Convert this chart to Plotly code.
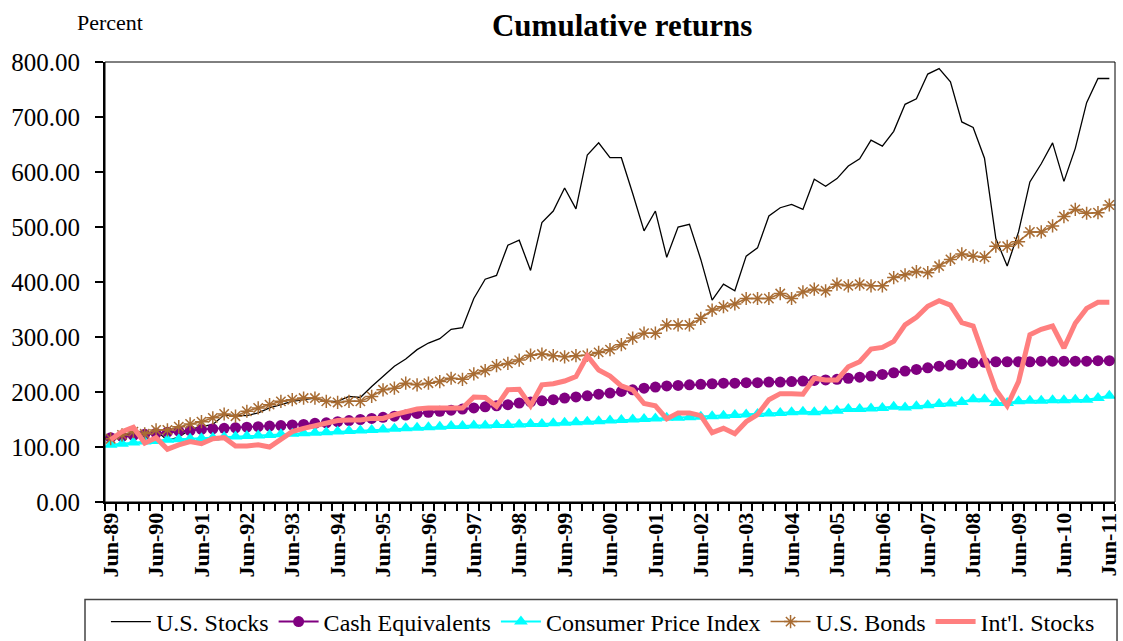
import plotly.graph_objects as go

years = list(range(89, 100)) + list(range(0, 12))
tick_labels = ["Jun-%02d" % y for y in years]
n_points = 89

us_stocks = [110, 122, 124, 120, 130, 112, 118, 132, 137, 141, 158, 157, 157, 162, 171, 177, 183, 186, 189, 183,
             183, 192, 190, 210, 228, 247, 260, 277, 289, 297, 314, 317, 370, 405, 412, 467, 476, 421, 508, 529,
             571, 533, 631, 653, 626, 626, 561, 493, 529, 445, 500, 505, 441, 367, 396, 384, 447, 462, 520, 535,
             541, 532, 587, 574, 588, 611, 624, 658, 647, 674, 723, 733, 778, 788, 764, 691, 681, 625, 479, 429,
             491, 582, 615, 653, 583, 643, 726, 770, 770]
cash = [117, 119, 121, 123, 125, 127, 129, 130, 132, 133, 134, 135, 136, 137, 138, 139, 140, 141, 143, 144,
        146, 148, 150, 152, 154, 156, 158, 161, 163, 165, 167, 169, 171, 173, 175, 177, 180, 182, 184, 186,
        189, 191, 193, 196, 198, 201, 204, 207, 209, 211, 212, 213, 214, 215, 216, 216, 217, 217, 218, 218,
        219, 220, 221, 222, 223, 225, 227, 229, 232, 235, 238, 241, 244, 247, 249, 251, 253, 254, 255, 255,
        255, 255, 256, 256, 256, 256, 256, 257, 257]
cpi = [104, 106, 108, 110, 111, 113, 114, 115, 116, 117, 118, 119, 120, 121, 122, 123, 124, 125, 126, 127,
       128, 129, 130, 131, 132, 133, 134, 135, 136, 137, 138, 138, 139, 139, 140, 140, 141, 142, 142, 143,
       144, 145, 146, 147, 148, 149, 150, 151, 152, 153, 153, 154, 155, 156, 157, 158, 159, 160, 161, 162,
       163, 164, 163, 165, 166, 169, 169, 170, 171, 173, 172, 174, 176, 178, 179, 182, 187, 187, 180, 180,
       183, 184, 184, 185, 185, 186, 186, 189, 193]
bonds = [115, 122, 128, 124, 131, 131, 137, 142, 146, 153, 160, 156, 165, 171, 177, 183, 186, 189, 189, 183,
         181, 183, 183, 192, 204, 207, 216, 213, 216, 219, 225, 223, 233, 239, 248, 252, 258, 267, 269, 266,
         264, 266, 267, 272, 277, 286, 298, 307, 307, 322, 322, 322, 334, 349, 355, 360, 370, 370, 370, 379,
         370, 382, 387, 384, 396, 393, 396, 393, 393, 408, 413, 419, 417, 429, 441, 451, 447, 445, 465, 465,
         473, 491, 491, 502, 519, 532, 525, 526, 540]
intl = [113, 128, 136, 107, 117, 96, 104, 110, 106, 115, 117, 102, 102, 104, 100, 114, 128, 134, 139, 143,
        148, 149, 149, 152, 152, 159, 165, 169, 171, 171, 172, 171, 191, 190, 174, 204, 205, 175, 213, 215,
        220, 228, 266, 240, 229, 211, 204, 179, 175, 151, 162, 162, 157, 126, 134, 124, 146, 159, 186, 197,
        197, 196, 225, 222, 222, 246, 255, 278, 281, 292, 322, 336, 356, 366, 358, 326, 320, 260, 204, 175,
        219, 304, 314, 320, 280, 325, 352, 363, 363]

x = list(range(n_points))
FONT = "Liberation Serif"
BROWN = "#A86C33"

fig = go.Figure()
fig.add_trace(go.Scatter(x=x, y=us_stocks, name="U.S. Stocks", mode="lines",
                         line=dict(color="black", width=1.3)))
fig.add_trace(go.Scatter(x=x, y=cash, name="Cash Equivalents", mode="lines+markers",
                         line=dict(color="#800080", width=2),
                         marker=dict(symbol="circle", size=11, color="#800080")))
fig.add_trace(go.Scatter(x=x, y=cpi, name="Consumer Price Index", mode="lines+markers",
                         line=dict(color="#00FFFF", width=2),
                         marker=dict(symbol="triangle-up", size=12, color="#00FFFF")))
fig.add_trace(go.Scatter(x=x, y=bonds, name="U.S. Bonds", mode="lines+markers",
                         line=dict(color=BROWN, width=1.5),
                         marker=dict(symbol="asterisk-open", size=11,
                                     line=dict(color=BROWN, width=1.5))))
fig.add_trace(go.Scatter(x=x, y=intl, name="Int'l. Stocks", mode="lines",
                         line=dict(color="#FF7F7F", width=5)))

fig.update_xaxes(
    range=[-0.5, n_points - 0.5],
    tickmode="array",
    tickvals=list(range(0, n_points, 4)),
    ticktext=tick_labels,
    tickangle=-90,
    ticks="",
    showline=True, linecolor="black", linewidth=2,
    showgrid=False, zeroline=False, automargin=False,
    tickfont=dict(family=FONT, size=22, color="black", weight="bold"),
    minor=dict(ticks="outside", tick0=-0.5, dtick=1, ticklen=7, tickcolor="black", tickwidth=1.5, showgrid=False),
)
fig.update_yaxes(
    range=[0, 800], dtick=100, tickformat=".2f",
    ticks="outside", ticklen=8, tickcolor="black", tickwidth=1.5,
    ticklabelstandoff=10,
    showline=True, linecolor="black", linewidth=2,
    showgrid=False, zeroline=False, automargin=False,
    tickfont=dict(family=FONT, size=25, color="black"),
)

fig.add_shape(type="rect", xref="paper", yref="paper", x0=0, x1=1, y0=0, y1=1,
              line=dict(color="black", width=1), layer="above")
# legend frame
fig.add_shape(type="rect", xref="paper", yref="paper", x0=-0.0198, x1=1.002, y0=-0.2217, y1=-0.40,
              line=dict(color="#444444", width=1.5), layer="above")

fig.update_layout(
    width=1123, height=641,
    margin=dict(l=105, r=8, t=62, b=139, autoexpand=False),
    paper_bgcolor="white", plot_bgcolor="white",
    font=dict(family=FONT, color="black"),
    title=dict(text="<b>Cumulative returns</b>", x=0.554, xanchor="center", xref="container",
               y=1 - 25 / 641, yref="container", yanchor="middle",
               font=dict(family=FONT, size=31, color="black")),
    showlegend=True,
    legend=dict(orientation="h", x=0.493, xanchor="center", xref="paper",
                y=1 - 622 / 641, yanchor="middle", yref="container",
                font=dict(family=FONT, size=24, color="black"),
                itemwidth=40, borderwidth=0, bgcolor="rgba(0,0,0,0)", tracegroupgap=0),
    annotations=[dict(text="Percent", xref="paper", yref="paper", x=-0.0297, y=(502.3 - 22) / 440.6,
                      xanchor="left", yanchor="middle", showarrow=False,
                      font=dict(family=FONT, size=22, color="black"))],
)

fig.write_html("out.html", config={"displayModeBar": False},
               post_script="document.body.style.margin='0';document.body.style.overflow='hidden';")
